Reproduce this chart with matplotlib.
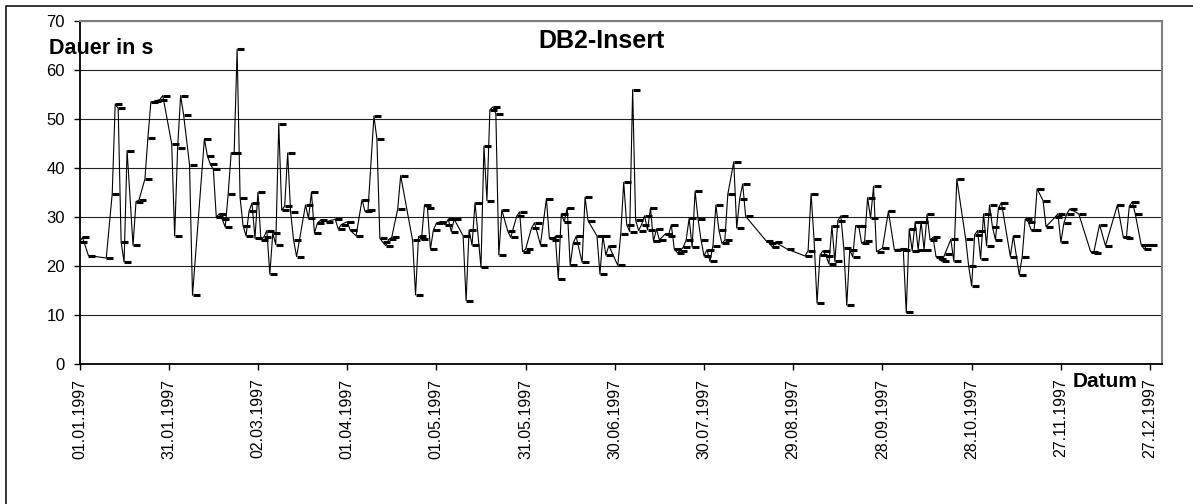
import numpy as np
import matplotlib
matplotlib.use("Agg")
import matplotlib.pyplot as plt
import matplotlib.dates as mdates
from matplotlib.path import Path
from matplotlib.patches import Rectangle

plt.rcParams['font.family'] = ['Liberation Sans', 'DejaVu Sans']

# Tage seit 01.01.1997 und gemessene Dauer (s)
day_offset = [
    0, 1, 3, 9, 11, 12, 13, 14, 15, 16, 18, 19, 20, 22, 23, 24, 25, 27, 28, 31,
    32, 33, 34, 35, 37, 38, 42, 43, 44, 45, 46, 47, 48, 49, 50, 51, 52, 53, 54, 55, 56,
    57, 58, 59, 60, 61, 62, 63, 64, 65, 66, 67, 68, 69, 70, 71, 72, 73, 76, 77, 78,
    79, 80, 81, 83, 86, 87, 88, 90, 91, 93, 95, 96, 97, 99, 100, 101, 102, 103, 104, 105,
    107, 108, 112, 113, 114, 115, 116, 117, 118, 119, 120,
    121, 123, 124, 125, 126, 129, 130, 131, 132, 133, 135, 136, 137, 138, 139, 140, 141, 142, 144, 145,
    147, 148, 149, 150, 152, 153, 155, 157, 158, 159, 160, 161, 162, 163, 164, 165, 166, 167, 169, 170,
    171, 174, 175, 176, 177, 178, 181, 182, 183,
    184, 185, 186, 187, 188, 189, 190, 191, 192, 193, 194, 195, 197, 198, 199, 200, 201, 202, 203, 204,
    205, 206, 207, 208, 209, 210, 211, 212, 213, 214, 215, 216, 217, 218, 220, 221, 222, 223, 224, 231,
    232, 233, 234, 238, 244, 245, 246, 247, 248,
    249, 250, 251, 252, 253, 254, 255, 256, 257, 258, 259, 260, 261, 262, 263, 264, 265, 266, 267, 268,
    270, 272, 274, 276, 277, 278, 279, 280, 281, 282, 283, 284, 285, 286, 287, 288, 289, 290, 291, 293,
    294, 295, 298, 299, 300, 301, 302, 303, 304, 305, 306, 307, 308, 309, 310,
    313, 314, 316, 317, 318, 319, 320, 321, 322, 324, 325, 328, 329, 330, 331, 332, 333, 336, 340, 341,
    343, 345, 349, 351, 352, 353, 354, 355, 357, 358, 359, 360,
]
dauer = [
    24.8, 25.8, 22.1, 21.6, 34.7, 52.9, 52.1, 24.8, 20.8, 43.5, 24.2, 33.1, 33.4, 37.7, 46.1, 53.4, 53.5, 53.9, 54.7, 44.9,
    26.1, 44.1, 54.7, 50.8, 40.6, 14.0, 45.9, 42.4, 40.7, 39.7, 29.9, 30.6, 29.5, 27.9, 34.7, 43.0, 43.0, 64.1, 33.9, 28.2, 26.1,
    31.1, 32.8, 25.6, 35.0, 25.3, 25.9, 27.2, 18.3, 26.7, 24.3, 49.0, 31.3, 32.2, 43.0, 30.9, 25.2, 21.9, 32.4, 29.7, 35.0,
    26.7, 28.7, 29.3, 29.0, 29.5, 27.5, 28.4, 29.0, 27.3, 26.1, 33.5, 31.1, 31.3, 50.5, 45.9, 25.6, 24.8, 24.1, 25.4, 25.8,
    31.6, 38.4, 25.2, 14.1, 26.0, 25.4, 32.4, 31.8, 23.4, 27.3, 28.7,
    28.9, 28.4, 29.5, 27.0, 29.5, 26.1, 12.9, 27.3, 24.2, 32.9, 19.7, 44.4, 33.3, 51.8, 52.4, 51.0, 22.2, 31.4, 27.1, 25.8,
    30.1, 31.0, 22.9, 23.4, 27.7, 28.8, 24.3, 33.7, 25.6, 25.3, 26.0, 17.3, 30.6, 29.0, 31.8, 20.1, 24.6, 26.0, 20.7, 34.0,
    29.2, 26.1, 18.3, 26.1, 22.2, 24.1, 20.1, 26.5, 37.0,
    28.4, 27.0, 55.9, 29.3, 27.2, 28.4, 30.2, 27.3, 31.8, 25.0, 27.5, 25.3, 26.5, 26.1, 28.4, 23.4, 22.7, 23.1, 23.8, 25.3,
    29.7, 23.8, 35.2, 29.5, 25.3, 22.0, 23.3, 20.9, 24.1, 32.4, 27.3, 24.6, 25.2, 34.6, 41.2, 27.7, 33.7, 36.7, 30.1, 25.0,
    24.6, 23.8, 24.8, 23.4, 22.0, 23.1, 34.7, 25.4, 12.4,
    22.2, 23.1, 22.1, 20.4, 28.2, 20.9, 29.2, 30.2, 23.6, 12.0, 23.3, 21.8, 28.2, 28.2, 24.6, 25.0, 33.9, 29.7, 36.2, 22.9,
    23.6, 31.1, 23.3, 23.4, 23.3, 10.5, 27.5, 23.1, 29.0, 23.3, 29.0, 23.3, 30.5, 25.3, 25.8, 21.9, 21.4, 20.9, 22.4, 25.4,
    20.9, 37.7, 25.4, 19.9, 15.9, 26.3, 27.2, 21.4, 30.6, 24.1, 32.4, 27.9, 25.3, 31.8, 32.9,
    21.9, 26.1, 18.2, 21.9, 29.5, 29.0, 27.3, 27.3, 35.7, 33.3, 28.0, 29.9, 30.6, 24.8, 28.7, 30.6, 31.6, 30.6, 22.9, 22.6,
    28.4, 24.1, 32.4, 25.8, 25.6, 32.1, 33.1, 30.6, 24.3, 23.4, 24.3, 24.3,
]

start = np.datetime64('1997-01-01')
dates = start + np.array(day_offset).astype('timedelta64[D]')

W, H = 1193, 504
fig = plt.figure(figsize=(W / 100, H / 100), dpi=100)
ax = fig.add_axes([79.5 / W, 1 - 364 / H, (1162 - 79.5) / W, (364 - 20.5) / H])

# Excel-Strichmarker: beginnt am Datenpunkt und geht nach rechts
dash = Path([(0, 0), (1, 0)])
ax.plot(dates, dauer, color='black', lw=0.8, marker=dash, markersize=10,
        markeredgewidth=2.2, markeredgecolor='black', markerfacecolor='none')

ax.set_xlim(start, start + np.timedelta64(364, 'D'))
ax.set_ylim(0, 70)
ax.set_yticks(range(0, 71, 10))
ax.set_xticks(start + np.arange(0, 361, 30).astype('timedelta64[D]'))
ax.xaxis.set_major_formatter(mdates.DateFormatter('%d.%m.%Y'))
ax.tick_params(axis='x', labelrotation=90, labelsize=11.5, length=4.5, width=1, pad=6)
ax.tick_params(axis='y', labelsize=12, length=4.5, width=1, pad=6)

ax.yaxis.grid(True, color='#222222', lw=0.8)
ax.set_axisbelow(True)
for side in ['top', 'right']:
    ax.spines[side].set_color('#808080')
    ax.spines[side].set_linewidth(1.5)
for side in ['left', 'bottom']:
    ax.spines[side].set_color('black')
    ax.spines[side].set_linewidth(1.3)

fig.text(602 / W, 1 - 48.5 / H, 'DB2-Insert', ha='center', va='baseline',
         fontsize=18, fontweight='bold')
fig.text(49 / W, 1 - 54 / H, 'Dauer in s', ha='left', va='baseline',
         fontsize=15.5, fontweight='bold')
fig.text(1073 / W, 1 - 387 / H, 'Datum', ha='left', va='baseline',
         fontsize=15, fontweight='bold')

# Rahmen des Diagrammbereichs
fig.add_artist(Rectangle((6 / W, -0.1), 1.2, 1.1 - 6 / H, transform=fig.transFigure,
                         fill=False, edgecolor='black', lw=1.1))

fig.savefig('out.png', dpi=100)
